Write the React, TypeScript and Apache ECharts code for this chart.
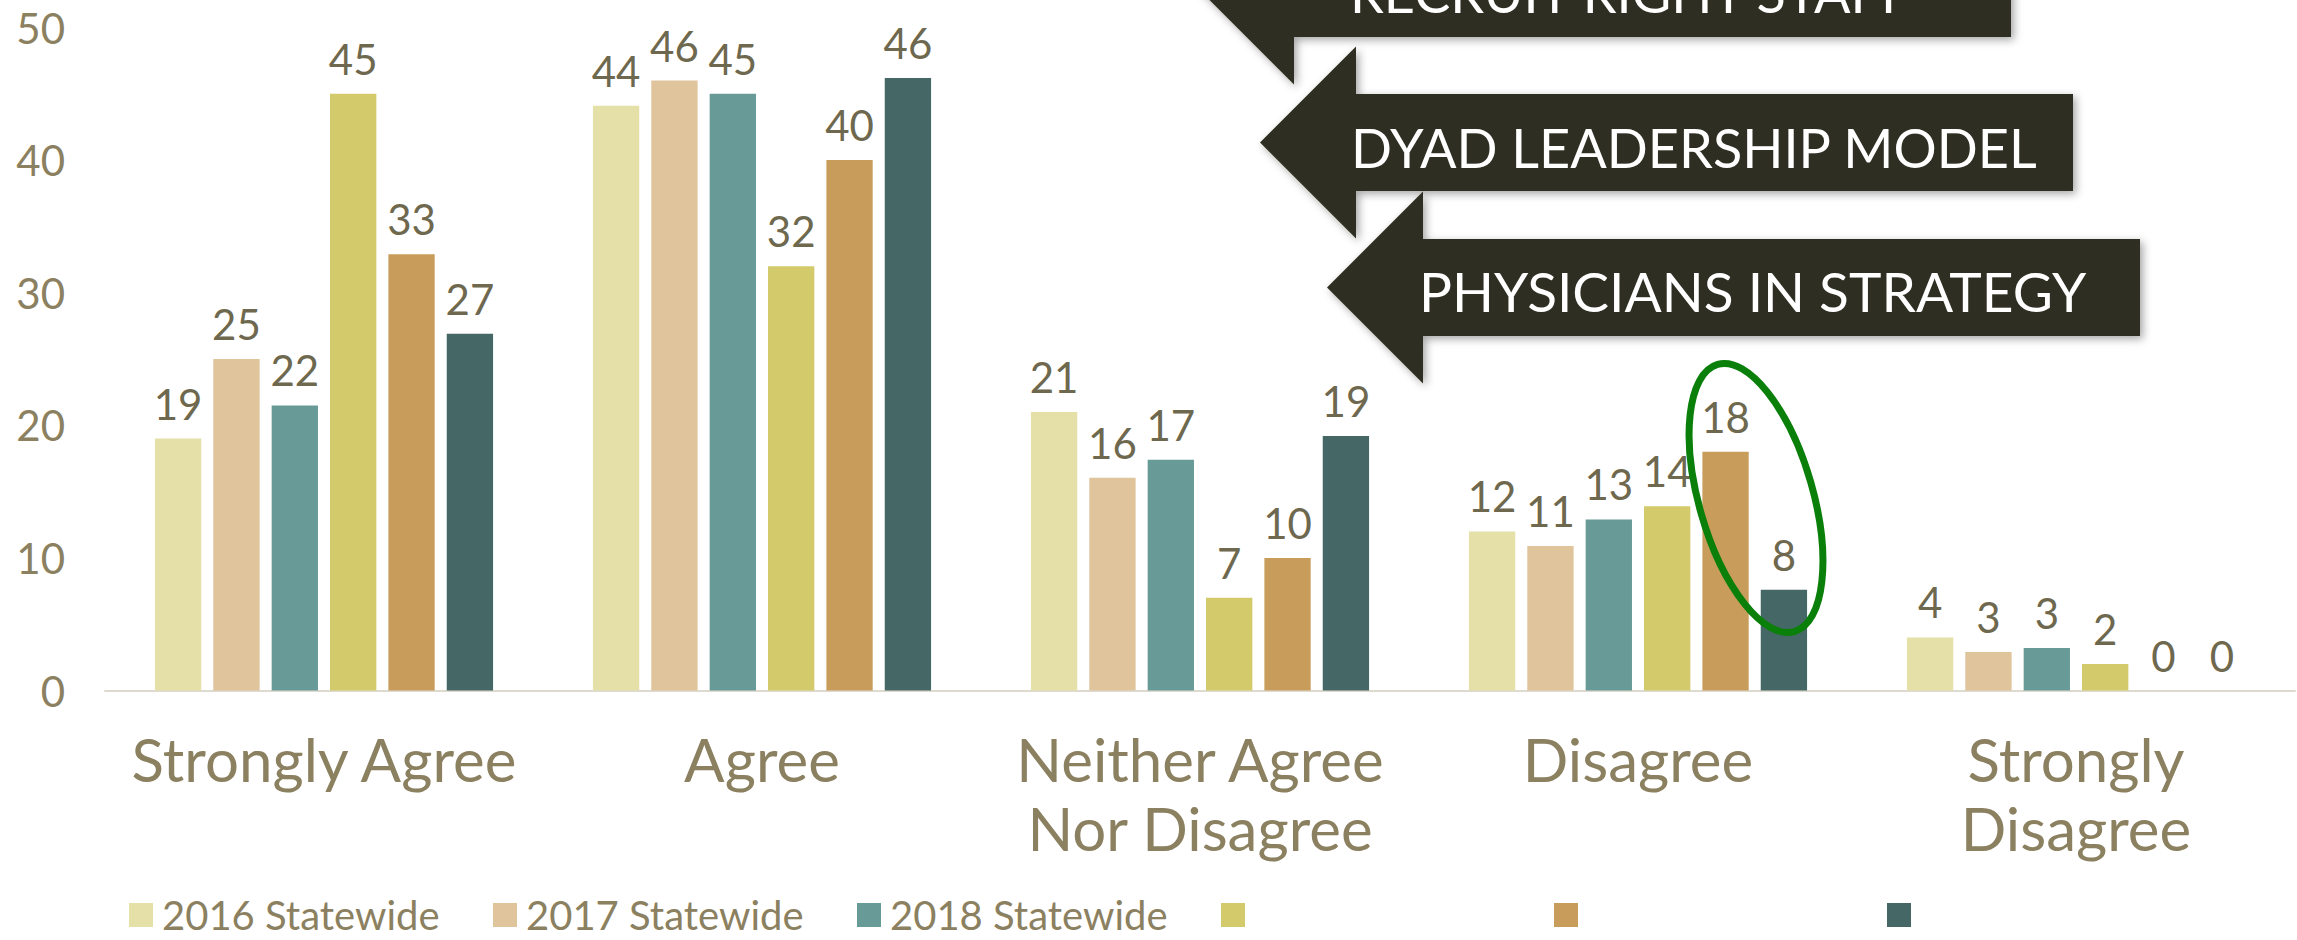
import React, { useEffect, useRef } from 'react';
import * as echarts from 'echarts';

const categories = ['Strongly Agree', 'Agree', 'Neither Agree\nNor Disagree', 'Disagree', 'Strongly\nDisagree'];
const seriesNames = ['2016 Statewide', '2017 Statewide', '2018 Statewide', 'Series 4', 'Series 5', 'Series 6'];
const hiddenLegendNames = ['Series 4', 'Series 5', 'Series 6'];
const values2016 = [19.0, 44.1, 21.0, 12.0, 4.0];
const values2017 = [25.0, 46.0, 16.05, 10.9, 2.9];
const values2018 = [21.5, 45.0, 17.4, 12.9, 3.2];
const valuesS4 = [45.0, 32.0, 7.0, 13.9, 2.0];
const valuesS5 = [32.9, 40.0, 10.0, 18.0, 0];
const valuesS6 = [26.9, 46.2, 19.2, 7.6, 0];
const seriesValues = [values2016, values2017, values2018, valuesS4, valuesS5, valuesS6];
const seriesColors = ['#e4e0a8', '#dfc49c', '#689b98', '#d2ca6b', '#c89d5c', '#456765'];
const yTicks = { min: 0, max: 50, interval: 10 };
const arrowTexts = ['RECRUIT RIGHT STAFF', 'DYAD LEADERSHIP MODEL', 'PHYSICIANS IN STRATEGY'];

const FONT = 'Lato, "Open Sans", sans-serif';
const AXIS_COLOR = '#8b8060';
const LABEL_COLOR = '#6e684e';
const ARROW_FILL = '#2f2d22';

function arrowShape(tipX: number, centerY: number, bodyRight: number, text: string, textX: number, textY: number, fontSize: number) {
  const head = 96;
  const halfBody = 48.5;
  const bodyLeft = tipX + head;
  return [
    {
      type: 'polygon',
      z: 100,
      shape: {
        points: [
          [tipX, centerY],
          [bodyLeft, centerY - head],
          [bodyLeft, centerY - halfBody],
          [bodyRight, centerY - halfBody],
          [bodyRight, centerY + halfBody],
          [bodyLeft, centerY + halfBody],
          [bodyLeft, centerY + head],
        ],
      },
      style: {
        fill: ARROW_FILL,
        shadowBlur: 8,
        shadowColor: 'rgba(0,0,0,0.35)',
        shadowOffsetX: 3,
        shadowOffsetY: 3,
      },
    },
    {
      type: 'text',
      z: 101,
      style: {
        text,
        x: textX,
        y: textY,
        fill: '#ffffff',
        fontSize,
        fontFamily: FONT,
        textAlign: 'left',
        textVerticalAlign: 'middle',
      },
    },
  ];
}

export default function App() {
  const ref = useRef<HTMLDivElement>(null);
  useEffect(() => {
    document.body.style.margin = '0';
    if (!ref.current) return;
    const chart = echarts.init(ref.current, null, { renderer: 'svg' });
    const namedWidth = 300;
    const emptyWidth = 269;
    const option: any = {
      animation: false,
      backgroundColor: '#ffffff',
      grid: { left: 105, right: 2, top: 27.5, bottom: 249.5, containLabel: false },
      legend: {
        left: 124,
        top: 890,
        itemWidth: 24,
        itemHeight: 24,
        itemGap: 31,
        icon: 'rect',
        data: seriesNames.map((n) => ({
          name: n,
          textStyle: {
            width: hiddenLegendNames.includes(n) ? emptyWidth : namedWidth,
            padding: [0, 0, 0, 4],
          },
        })),
        formatter: (name: string) => (hiddenLegendNames.includes(name) ? '' : name),
        textStyle: { fontFamily: FONT, fontSize: 40, color: AXIS_COLOR, lineHeight: 40 },
      },
      xAxis: {
        type: 'category',
        data: categories,
        axisTick: { show: false },
        axisLine: { lineStyle: { color: '#dedad0', width: 2 } },
        axisLabel: {
          fontFamily: FONT,
          fontSize: 60,
          lineHeight: 69,
          color: AXIS_COLOR,
          margin: 34,
          interval: 0,
        },
      },
      yAxis: {
        type: 'value',
        min: yTicks.min,
        max: yTicks.max,
        interval: yTicks.interval,
        axisLine: { show: false },
        axisTick: { show: false },
        splitLine: { show: false },
        axisLabel: { fontFamily: FONT, fontSize: 42, color: AXIS_COLOR, margin: 40 },
      },
      series: seriesNames.map((name, i) => ({
        name,
        type: 'bar',
        data: seriesValues[i],
        barGap: '26%',
        barCategoryGap: '22.8%',
        itemStyle: { color: seriesColors[i] },
        label: {
          show: true,
          position: 'top',
          distance: 14,
          fontFamily: FONT,
          fontSize: 42,
          color: LABEL_COLOR,
          formatter: (p: any) => String(Math.round(p.value)),
        },
      })),
      graphic: [
        ...arrowShape(1198, -11.5, 2011, arrowTexts[0], 1350, -8, 54),
        ...arrowShape(1260, 142.5, 2073, arrowTexts[1], 1351, 147, 54),
        ...arrowShape(1327, 287.5, 2140, arrowTexts[2], 1419, 291, 55),
        {
          type: 'ellipse',
          z: 102,
          x: 1756,
          y: 498,
          rotation: (16 * Math.PI) / 180,
          shape: { cx: 0, cy: 0, rx: 57, ry: 139 },
          style: { fill: 'none', stroke: '#0a7f0a', lineWidth: 7 },
        },
      ],
    };
    chart.setOption(option);
    return () => chart.dispose();
  }, []);
  return <div ref={ref} style={{ width: 2297, height: 940 }} />;
}
